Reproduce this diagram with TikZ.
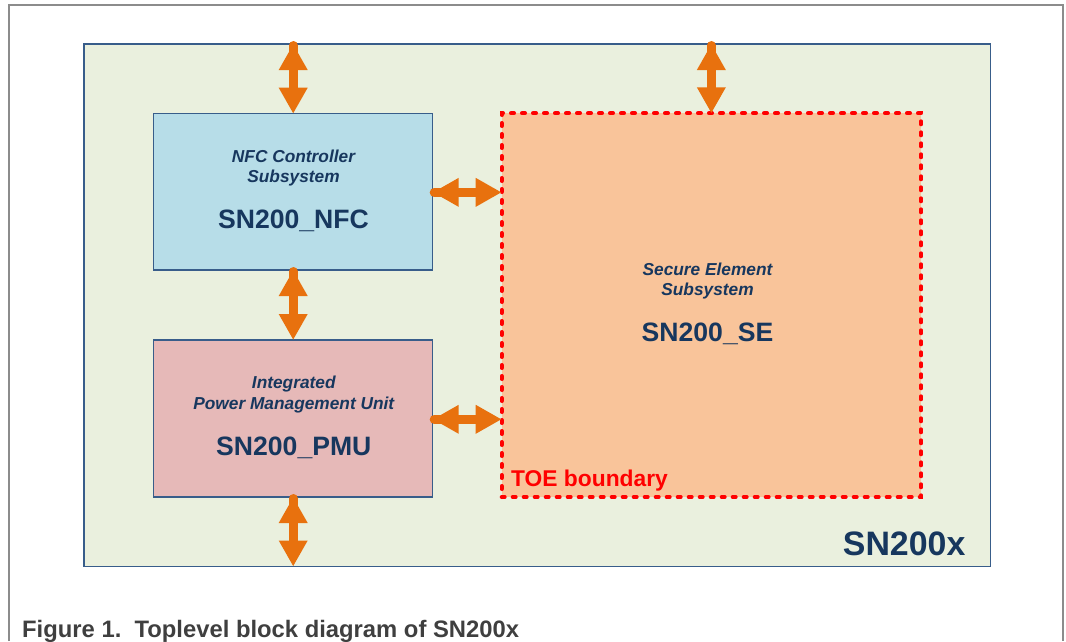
\documentclass[tikz,border=0pt]{standalone}
\usepackage{fontspec}
\setmainfont{Liberation Sans}
\usetikzlibrary{arrows.meta}
\definecolor{chipfill}{HTML}{EAF0DE}
\definecolor{nfcfill}{HTML}{B7DDE8}
\definecolor{pmufill}{HTML}{E6B9B8}
\definecolor{sefill}{HTML}{F9C49A}
\definecolor{navytext}{HTML}{17375E}
\definecolor{navyline}{HTML}{385D8A}
\definecolor{arroworange}{HTML}{E8710E}
\definecolor{toered}{HTML}{FF0000}
\definecolor{framegray}{HTML}{8C8C8C}
\definecolor{capgray}{HTML}{3F3F3F}
\tikzset{
  blockbox/.style={rectangle, draw=navyline, line width=1.4pt, inner sep=0pt, outer sep=0pt},
  toebox/.style={rectangle, draw=toered, fill=sefill, line width=4pt, dash pattern=on 3pt off 8pt, line cap=round, inner sep=0pt, outer sep=0pt},
  subtitle/.style={font=\fontsize{17.3}{20}\selectfont\bfseries\itshape, text=navytext, inner sep=0pt, anchor=base},
  blockname/.style={font=\fontsize{26.6}{30}\selectfont\bfseries, text=navytext, inner sep=0pt, anchor=base},
  bidir/.style={draw=arroworange, line width=9pt,
    {Triangle[width=27pt,length=26pt]}-{Triangle[width=27pt,length=26pt]},
    preaction={draw=arroworange, line width=9pt, arrows=-, line cap=round, shorten >=20pt, shorten <=1.5pt}},
}
\begin{document}
\begin{tikzpicture}[x=1pt,y=-1pt]
\useasboundingbox (0,0) rectangle (1066,641);
% page frame
\draw[framegray, line width=1.3pt] (9,641) -- (9,5) -- (1063,5) -- (1063,641);
% chip
\node[blockbox, fill=chipfill, minimum width=906.7pt, minimum height=522.5pt] (chip) at (537.35,305.25) {};
% blocks
\node[blockbox, fill=nfcfill, minimum width=279pt, minimum height=156.3pt] (nfc) at (293.2,191.85) {};
\node[blockbox, fill=pmufill, minimum width=279pt, minimum height=157pt] (pmu) at (293.2,418.5) {};
\node[toebox, minimum width=419.3pt, minimum height=383.7pt] (se) at (711.35,305.15) {};
% connector end points on the chip border
\coordinate (nfcext) at (nfc.north |- chip.north);
\coordinate (seext) at (se.north |- chip.north);
\coordinate (pmuext) at (pmu.south |- chip.south);
% connectors
\draw[bidir] (nfcext) -- (nfc.north);
\draw[bidir] (seext) -- (se.north);
\draw[bidir] (nfc.south) -- (pmu.north);
\draw[bidir] (pmu.south) -- (pmuext);
\draw[bidir] ([yshift=-0.5pt]nfc.east) -- ([yshift=-0.5pt]nfc.east -| se.west);
\draw[bidir] ([yshift=-0.8pt]pmu.east) -- ([yshift=-0.8pt]pmu.east -| se.west);
% texts
\node[subtitle] (nfct1) at (293.5,162.7) {NFC Controller};
\node[subtitle] (nfct2) at (293.5,182.7) {Subsystem};
\node[blockname] (nfcn) at (293.5,228.3) {SN200\_NFC};
\node[subtitle] (pmut1) at (293.8,388.3) {Integrated};
\node[subtitle] (pmut2) at (293.8,409.3) {Power Management Unit};
\node[blockname] (pmun) at (293.8,455) {SN200\_PMU};
\node[subtitle] (set1) at (707.5,275) {Secure Element};
\node[subtitle] (set2) at (707.5,295) {Subsystem};
\node[blockname] (sen) at (707.5,341.7) {SN200\_SE};
\node[font=\fontsize{22.8}{26}\selectfont\bfseries, text=toered, inner sep=0pt, anchor=base west] (toe) at (511,486) {TOE boundary};
\node[font=\fontsize{33.9}{38}\selectfont\bfseries, text=navytext, inner sep=0pt, anchor=base west] (chipname) at (842.7,555) {SN200x};
\node[font=\fontsize{23.8}{28}\selectfont\bfseries, text=capgray, inner sep=0pt, anchor=base west] (caption) at (22,637) {Figure 1.\ \ Toplevel block diagram of SN200x};
\end{tikzpicture}
\end{document}
